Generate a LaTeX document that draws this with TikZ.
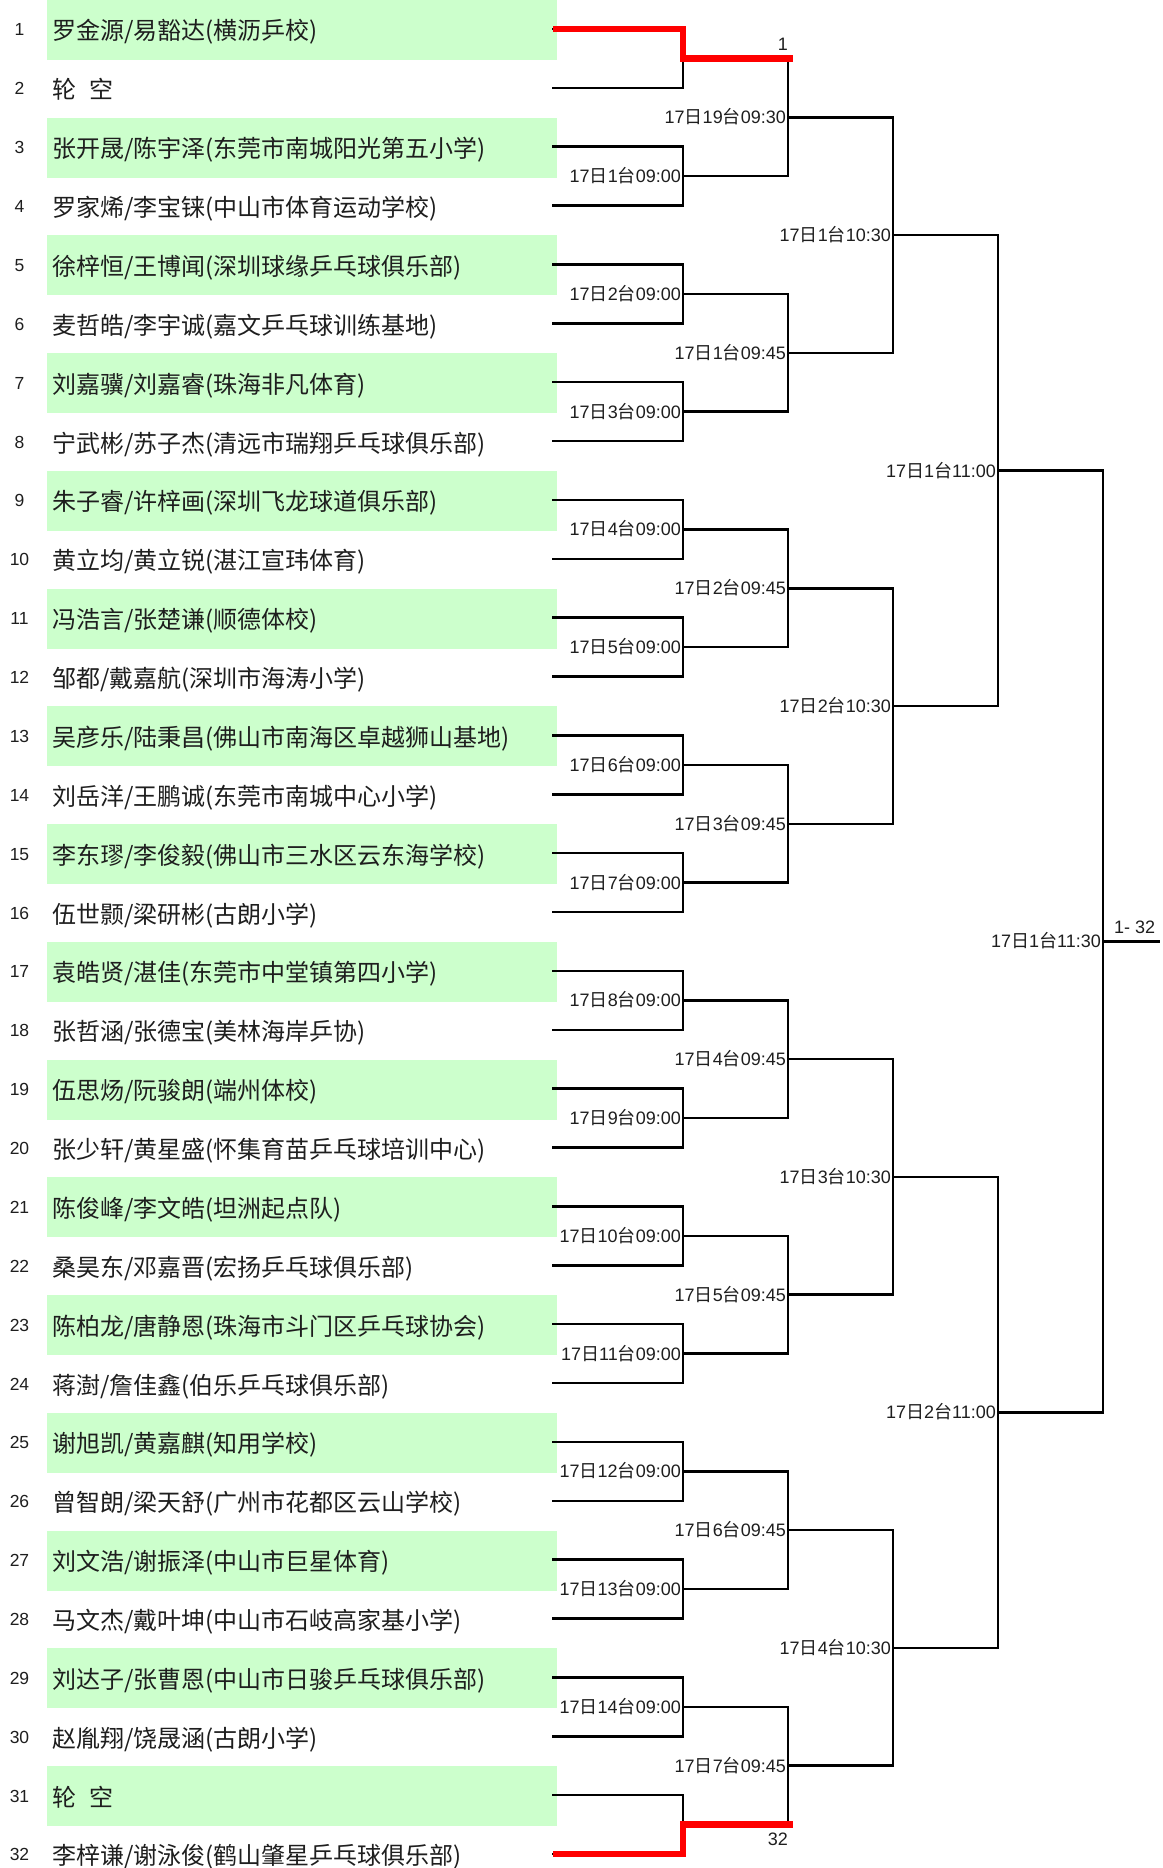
\documentclass[tikz,border=0pt]{standalone}
\usepackage{fontspec}
\setmainfont{Liberation Sans}
\newfontfamily\cjk{Noto Sans CJK SC}
\definecolor{bandgreen}{RGB}{204,255,204}
\definecolor{inkgray}{RGB}{30,30,30}
\newcommand{\tm}[3]{#1{\cjk 日}#2{\cjk 台}#3}
\newcommand{\bracketentry}[2]{%
  \pgfmathsetmacro\ry{29+(#1-1)*58.87}%
  \node[numtext] (n#1) at (19.5,\ry+7) {#1};
  \node[nametext] (r#1) at (52,\ry+11) {#2};
}
\begin{document}
\begin{tikzpicture}[x=1pt,y=-1pt,
  nametext/.style={font=\cjk\fontsize{24}{26}\selectfont, anchor=base west, inner sep=0pt, text=inkgray},
  numtext/.style={font=\fontsize{17.5}{20}\selectfont, anchor=base, inner sep=0pt, text=inkgray},
  timelab/.style={font=\fontsize{18}{20}\selectfont, anchor=base east, inner sep=0pt, text=inkgray},
  wire/.style={line width=2.5pt, line cap=rect, draw=black},
  winner/.style={line width=6.7pt, draw=red, line join=miter}]
\useasboundingbox (0,0) rectangle (1162,1868);
\fill[white] (0,0) rectangle (1162,1868);
% green bands
\foreach \k in {1,3,...,31} {
  \fill[bandgreen] (47,{(\k-1)*58.87}) rectangle (557,{(\k-1)*58.87+60});
}
% entries
\bracketentry{1}{罗金源/易豁达(横沥乒校)}
\bracketentry{2}{轮\hspace{13pt}空}
\bracketentry{3}{张开晟/陈宇泽(东莞市南城阳光第五小学)}
\bracketentry{4}{罗家烯/李宝铼(中山市体育运动学校)}
\bracketentry{5}{徐梓恒/王博闻(深圳球缘乒乓球俱乐部)}
\bracketentry{6}{麦哲皓/李宇诚(嘉文乒乓球训练基地)}
\bracketentry{7}{刘嘉骥/刘嘉睿(珠海非凡体育)}
\bracketentry{8}{宁武彬/苏子杰(清远市瑞翔乒乓球俱乐部)}
\bracketentry{9}{朱子睿/许梓画(深圳飞龙球道俱乐部)}
\bracketentry{10}{黄立均/黄立锐(湛江宣玮体育)}
\bracketentry{11}{冯浩言/张楚谦(顺德体校)}
\bracketentry{12}{邹都/戴嘉航(深圳市海涛小学)}
\bracketentry{13}{吴彦乐/陆秉昌(佛山市南海区卓越狮山基地)}
\bracketentry{14}{刘岳洋/王鹏诚(东莞市南城中心小学)}
\bracketentry{15}{李东璆/李俊毅(佛山市三水区云东海学校)}
\bracketentry{16}{伍世颢/梁研彬(古朗小学)}
\bracketentry{17}{袁皓贤/湛佳(东莞市中堂镇第四小学)}
\bracketentry{18}{张哲涵/张德宝(美林海岸乒协)}
\bracketentry{19}{伍思炀/阮骏朗(端州体校)}
\bracketentry{20}{张少轩/黄星盛(怀集育苗乒乓球培训中心)}
\bracketentry{21}{陈俊峰/李文皓(坦洲起点队)}
\bracketentry{22}{桑昊东/邓嘉晋(宏扬乒乓球俱乐部)}
\bracketentry{23}{陈柏龙/唐静恩(珠海市斗门区乒乓球协会)}
\bracketentry{24}{蒋澍/詹佳鑫(伯乐乒乓球俱乐部)}
\bracketentry{25}{谢旭凯/黄嘉麒(知用学校)}
\bracketentry{26}{曾智朗/梁天舒(广州市花都区云山学校)}
\bracketentry{27}{刘文浩/谢振泽(中山市巨星体育)}
\bracketentry{28}{马文杰/戴叶坤(中山市石岐高家基小学)}
\bracketentry{29}{刘达子/张曹恩(中山市日骏乒乓球俱乐部)}
\bracketentry{30}{赵胤翔/饶晟涵(古朗小学)}
\bracketentry{31}{轮\hspace{13pt}空}
\bracketentry{32}{李梓谦/谢泳俊(鹤山肇星乒乓球俱乐部)}
% row line coordinates
\foreach \k in {1,...,32} {
  \pgfmathsetmacro\yk{29+(\k-1)*58.87}
  \coordinate (s-\k) at (553,\yk);
  \coordinate (c0-\k) at (683,\yk);
  \draw[wire] (s-\k) -- (c0-\k);
}
% bracket rounds
\foreach \r/\xa/\xb in {1/683/788, 2/788/893, 3/893/998, 4/998/1103, 5/1103/1159} {
  \pgfmathtruncatemacro\nm{2^(5-\r)}
  \pgfmathtruncatemacro\pr{\r-1}
  \foreach \j in {1,...,\nm} {
    \pgfmathsetmacro\my{29+((\j-1)*2^\r+(2^\r-1)/2)*58.87}
    \pgfmathtruncatemacro\ja{2*\j-1}
    \pgfmathtruncatemacro\jb{2*\j}
    \coordinate (v\r-\j) at (\xa,\my);
    \coordinate (c\r-\j) at (\xb,\my);
    \draw[wire] (c\pr-\ja) -- (c\pr-\jb);
    \draw[wire] (v\r-\j) -- (c\r-\j);
  }
}
% round 1 labels
\foreach \j in {2,...,15} {
  \pgfmathtruncatemacro\tb{\j-1}
  \node[timelab] (t1-\j) at ([shift={(-2,6.5)}]v1-\j) {\tm{17}{\tb}{09:00}};
}
% round 2 labels
\node[timelab] (t2-1) at ([shift={(-2,6.5)}]v2-1) {\tm{17}{19}{09:30}};
\foreach \j in {2,...,8} {
  \pgfmathtruncatemacro\tb{\j-1}
  \node[timelab] (t2-\j) at ([shift={(-2,6.5)}]v2-\j) {\tm{17}{\tb}{09:45}};
}
% round 3 labels
\foreach \j in {1,...,4} {
  \node[timelab] (t3-\j) at ([shift={(-2,6.5)}]v3-\j) {\tm{17}{\j}{10:30}};
}
% round 4 labels
\foreach \j in {1,2} {
  \node[timelab] (t4-\j) at ([shift={(-2,6.5)}]v4-\j) {\tm{17}{\j}{11:00}};
}
% final label
\node[timelab] (t5-1) at ([shift={(-2,6.5)}]v5-1) {\tm{17}{1}{11:30}};
\node[timelab, anchor=base west] (champ) at ([shift={(11,-8)}]v5-1) {1- 32};
% winners by bye
\coordinate (w1) at ([xshift=5pt]c1-1);
\coordinate (w16) at ([xshift=5pt]c1-16);
\draw[winner] (s-1) -- (c0-1) -- (v1-1) -- (w1);
\draw[winner] (s-32) -- (c0-32) -- (v1-16) -- (w16);
\node[timelab] (lab1) at ([shift={(0,-8)}]c1-1) {1};
\node[timelab] (lab32) at ([shift={(0,21)}]c1-16) {32};
\end{tikzpicture}
\end{document}
